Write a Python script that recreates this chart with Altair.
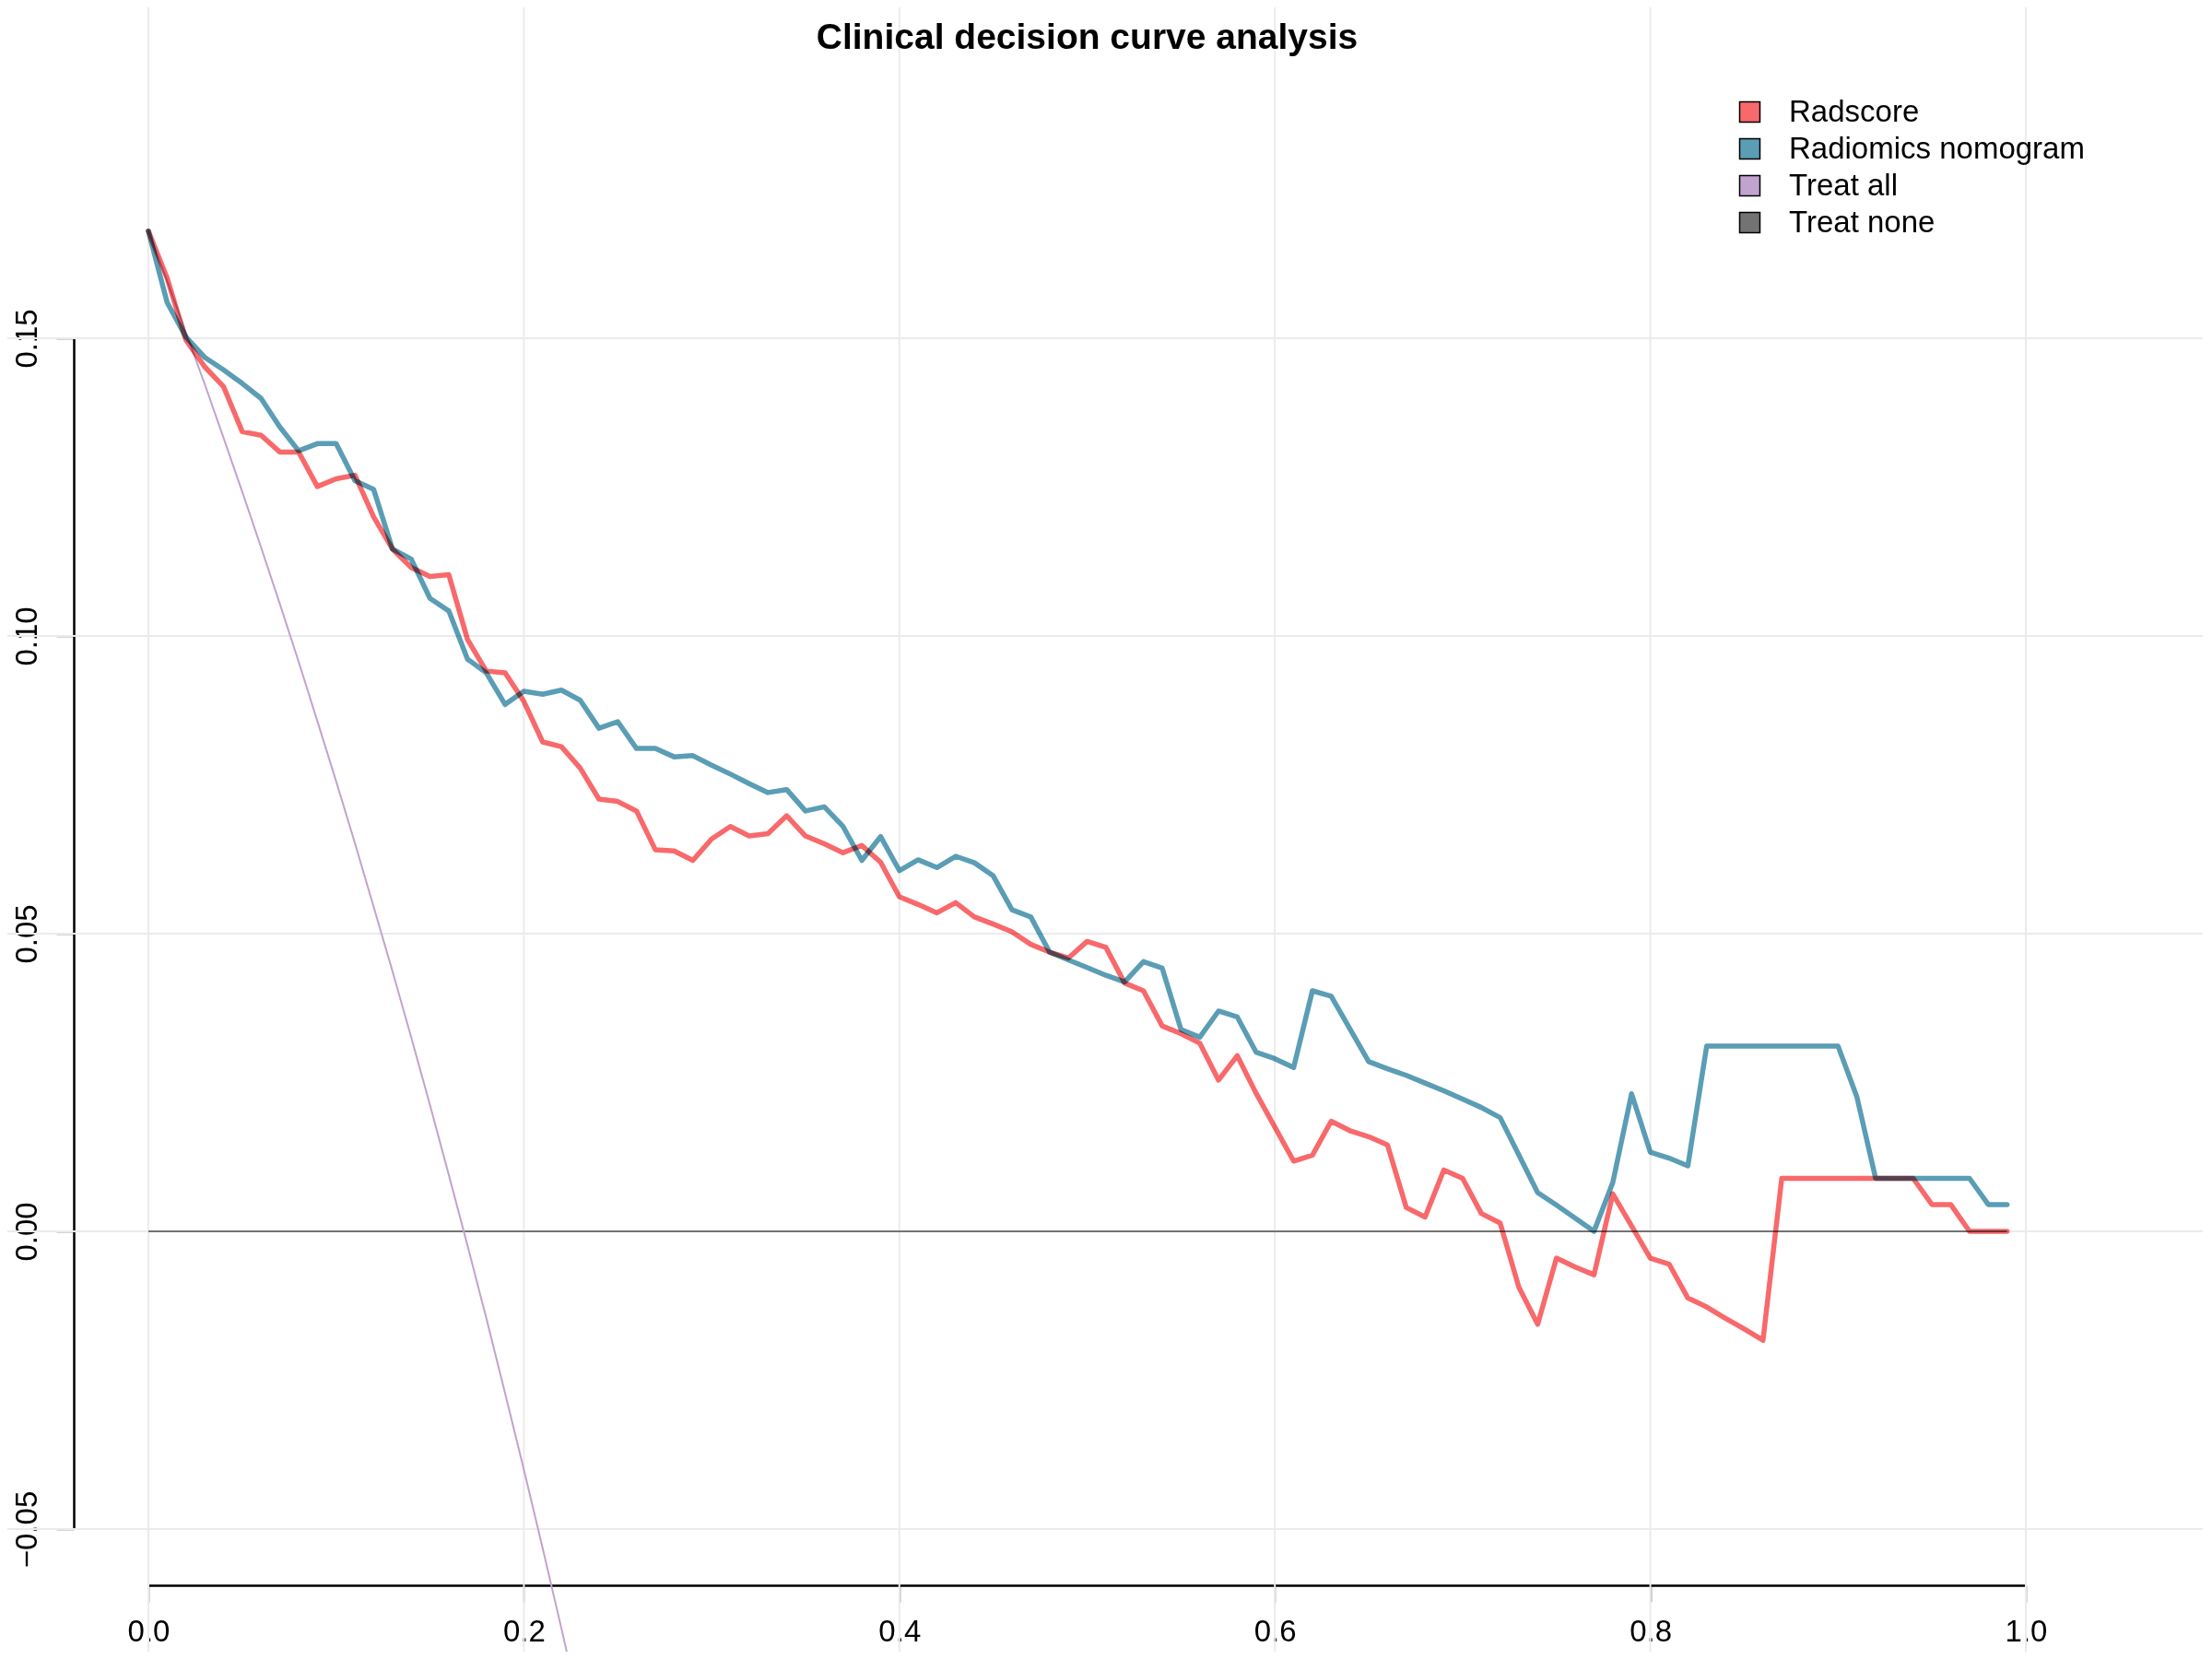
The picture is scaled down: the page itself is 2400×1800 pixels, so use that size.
import altair as alt
import pandas as pd

# ---------------- data ----------------
thresholds = [round(i * 0.01, 2) for i in range(100)]

radscore = [
    0.1680, 0.1601, 0.1497, 0.1452, 0.1419, 0.1343, 0.1337, 0.1309, 0.1309, 0.1251,
    0.1264, 0.1270, 0.1200, 0.1146, 0.1115, 0.1100, 0.1103, 0.0994, 0.0941, 0.0938,
    0.0890, 0.0822, 0.0814, 0.0778, 0.0726, 0.0722, 0.0706, 0.0641, 0.0639, 0.0623,
    0.0659, 0.0680, 0.0664, 0.0668, 0.0698, 0.0664, 0.0651, 0.0636, 0.0648, 0.0620,
    0.0562, 0.0549, 0.0535, 0.0552, 0.0528, 0.0516, 0.0503, 0.0482, 0.0469, 0.0459,
    0.0487, 0.0477, 0.0417, 0.0404, 0.0345, 0.0332, 0.0316, 0.0254, 0.0295, 0.0232,
    0.0175, 0.0118, 0.0128, 0.0185, 0.0169, 0.0159, 0.0145, 0.0040, 0.0024, 0.0103,
    0.0089, 0.0030, 0.0014, -0.0094, -0.0156, -0.0045, -0.0060, -0.0073, 0.0063, 0.0009,
    -0.0045, -0.0055, -0.0112, -0.0127, -0.0146, -0.0164, -0.0183, 0.0089, 0.0089, 0.0089,
    0.0089, 0.0089, 0.0089, 0.0089, 0.0089, 0.0045, 0.0045, 0.0000, 0.0000, 0.0000,
]

nomogram = [
    0.1680, 0.1560, 0.1502, 0.1468, 0.1447, 0.1424, 0.1399, 0.1351, 0.1311, 0.1323,
    0.1323, 0.1261, 0.1246, 0.1146, 0.1129, 0.1063, 0.1042, 0.0961, 0.0938, 0.0885,
    0.0907, 0.0902, 0.0909, 0.0892, 0.0845, 0.0856, 0.0811, 0.0811, 0.0797, 0.0799,
    0.0783, 0.0768, 0.0752, 0.0737, 0.0742, 0.0706, 0.0713, 0.0680, 0.0623, 0.0663,
    0.0606, 0.0624, 0.0611, 0.0630, 0.0619, 0.0597, 0.0540, 0.0528, 0.0469, 0.0456,
    0.0443, 0.0430, 0.0419, 0.0453, 0.0442, 0.0339, 0.0326, 0.0370, 0.0360, 0.0301,
    0.0290, 0.0275, 0.0404, 0.0395, 0.0340, 0.0285, 0.0273, 0.0262, 0.0249, 0.0236,
    0.0222, 0.0208, 0.0191, 0.0128, 0.0065, 0.0044, 0.0022, 0.0000, 0.0082, 0.0231,
    0.0133, 0.0123, 0.0110, 0.0311, 0.0311, 0.0311, 0.0311, 0.0311, 0.0311, 0.0311,
    0.0311, 0.0226, 0.0089, 0.0089, 0.0089, 0.0089, 0.0089, 0.0089, 0.0045, 0.0045,
]

treat_all_x = [0.00, 0.01, 0.02, 0.03, 0.04, 0.05, 0.06, 0.07, 0.08, 0.09, 0.10, 0.11,
               0.12, 0.13, 0.14, 0.15, 0.16, 0.17, 0.18, 0.19, 0.20, 0.21, 0.22, 0.23]
treat_all = [0.1680, 0.1596, 0.1510, 0.1423, 0.1333, 0.1242, 0.1149, 0.1054, 0.0957,
             0.0857, 0.0756, 0.0652, 0.0545, 0.0437, 0.0326, 0.0212, 0.0095, -0.0024,
             -0.0146, -0.0272, -0.0400, -0.0532, -0.0667, -0.0805]

treat_none_x = [0.00, 0.99]
treat_none = [0.0, 0.0]

series_names = ["Radscore", "Radiomics nomogram", "Treat all", "Treat none"]
series_colors = ["#F8696B", "#5A9DB5", "#C0A3CE", "#737373"]

x_ticks = [0.0, 0.2, 0.4, 0.6, 0.8, 1.0]
y_ticks = [-0.05, 0.0, 0.05, 0.10, 0.15]

title_text = "Clinical decision curve analysis"

# ---------------- tables ----------------
rad_df = pd.DataFrame({"threshold": thresholds, "net_benefit": radscore,
                       "series": [series_names[0]] * len(thresholds)})
nom_df = pd.DataFrame({"threshold": thresholds, "net_benefit": nomogram,
                       "series": [series_names[1]] * len(thresholds)})
all_df = pd.DataFrame({"threshold": treat_all_x, "net_benefit": treat_all,
                       "series": [series_names[2]] * len(treat_all_x)})
none_df = pd.DataFrame({"threshold": treat_none_x, "net_benefit": treat_none,
                        "series": [series_names[3]] * len(treat_none_x)})
xgrid_df = pd.DataFrame({"v": x_ticks})
ygrid_df = pd.DataFrame({"v": y_ticks})
title_df = pd.DataFrame({"t": [title_text]})

# ---------------- layout ----------------
W, H = 2037, 1292
FONT = "Liberation Sans"

xs = alt.Scale(domain=[0, 1], nice=False, zero=False)
ys = alt.Scale(domain=[-0.05, 0.15], nice=False, zero=False)
cs = alt.Scale(domain=series_names, range=series_colors)

x_axis = alt.Axis(values=x_ticks, format=".1f", title=None, grid=False, offset=61,
                  domainColor="black", domainWidth=2.5, tickColor="#A8A8A8",
                  tickWidth=2, tickSize=18, labelFont=FONT, labelFontSize=33,
                  labelColor="black", labelPadding=16, labelFlush=False,
                  labelOverlap=False, labelBaseline="top", labelAlign="center")
y_axis = alt.Axis(values=y_ticks, format=".2f", title=None, grid=False, offset=81,
                  domainColor="black", domainWidth=2.5, tickColor="#A8A8A8",
                  tickWidth=2, tickSize=19, labelFont=FONT, labelFontSize=33,
                  labelColor="black", labelPadding=32, labelFlush=False,
                  labelOverlap=False, labelAngle=270, labelAlign="center",
                  labelBaseline="middle")

legend = alt.Legend(
    title=None, orient="none", legendX=1721, legendY=-262, padding=0,
    symbolType="square", symbolSize=484, symbolStrokeColor="black",
    symbolStrokeWidth=1.5, symbolOpacity=1, labelFont=FONT, labelFontSize=33,
    labelColor="black", labelOffset=26, rowPadding=6, labelLimit=0,
)

X = alt.X("threshold:Q", scale=xs, axis=x_axis)
Y = alt.Y("net_benefit:Q", scale=ys, axis=y_axis)

vgrid = alt.Chart(xgrid_df).mark_rule(color="#EBEBEB", strokeWidth=2).encode(
    x=alt.X("v:Q", scale=xs, axis=x_axis),
    y=alt.value(-370), y2=alt.value(H + 150),
)
hgrid = alt.Chart(ygrid_df).mark_rule(color="#EBEBEB", strokeWidth=2).encode(
    y=alt.Y("v:Q", scale=ys, axis=y_axis),
    x=alt.value(-170), x2=alt.value(W + 210),
)

none_line = alt.Chart(none_df).mark_line(strokeWidth=2, color=series_colors[3]).encode(x=X, y=Y)
all_line = alt.Chart(all_df).mark_line(strokeWidth=2, color=series_colors[2]).encode(x=X, y=Y)
rad_line = alt.Chart(rad_df).mark_line(
    strokeWidth=5.5, strokeCap="round", strokeJoin="round", blend="multiply",
    color=series_colors[0],
).encode(x=X, y=Y)
nom_line = alt.Chart(nom_df).mark_line(
    strokeWidth=5.5, strokeCap="round", strokeJoin="round", blend="multiply",
    color=series_colors[1],
).encode(x=X, y=Y)

# invisible filled squares that only carry the (filled-square) legend
legend_carrier = alt.Chart(none_df).mark_square(filled=True, opacity=0).encode(
    x=X, y=Y,
    fill=alt.Fill("series:N", scale=cs, legend=legend),
)

title_layer = alt.Chart(title_df).mark_text(
    font=FONT, fontSize=39, fontWeight="bold", align="center",
    baseline="alphabetic", color="black",
).encode(text="t:N", x=alt.value(W / 2), y=alt.value(-314))

chart = alt.layer(vgrid, hgrid, none_line, all_line, rad_line, nom_line,
                  legend_carrier, title_layer).properties(
    width=W, height=H,
    autosize=alt.AutoSizeParams(type="none"),
    padding={"left": 153, "top": 359, "right": 192, "bottom": 133},
    background="white",
).configure_view(stroke=None)

chart.save("out.html", embed_options={"renderer": "svg", "actions": False})
